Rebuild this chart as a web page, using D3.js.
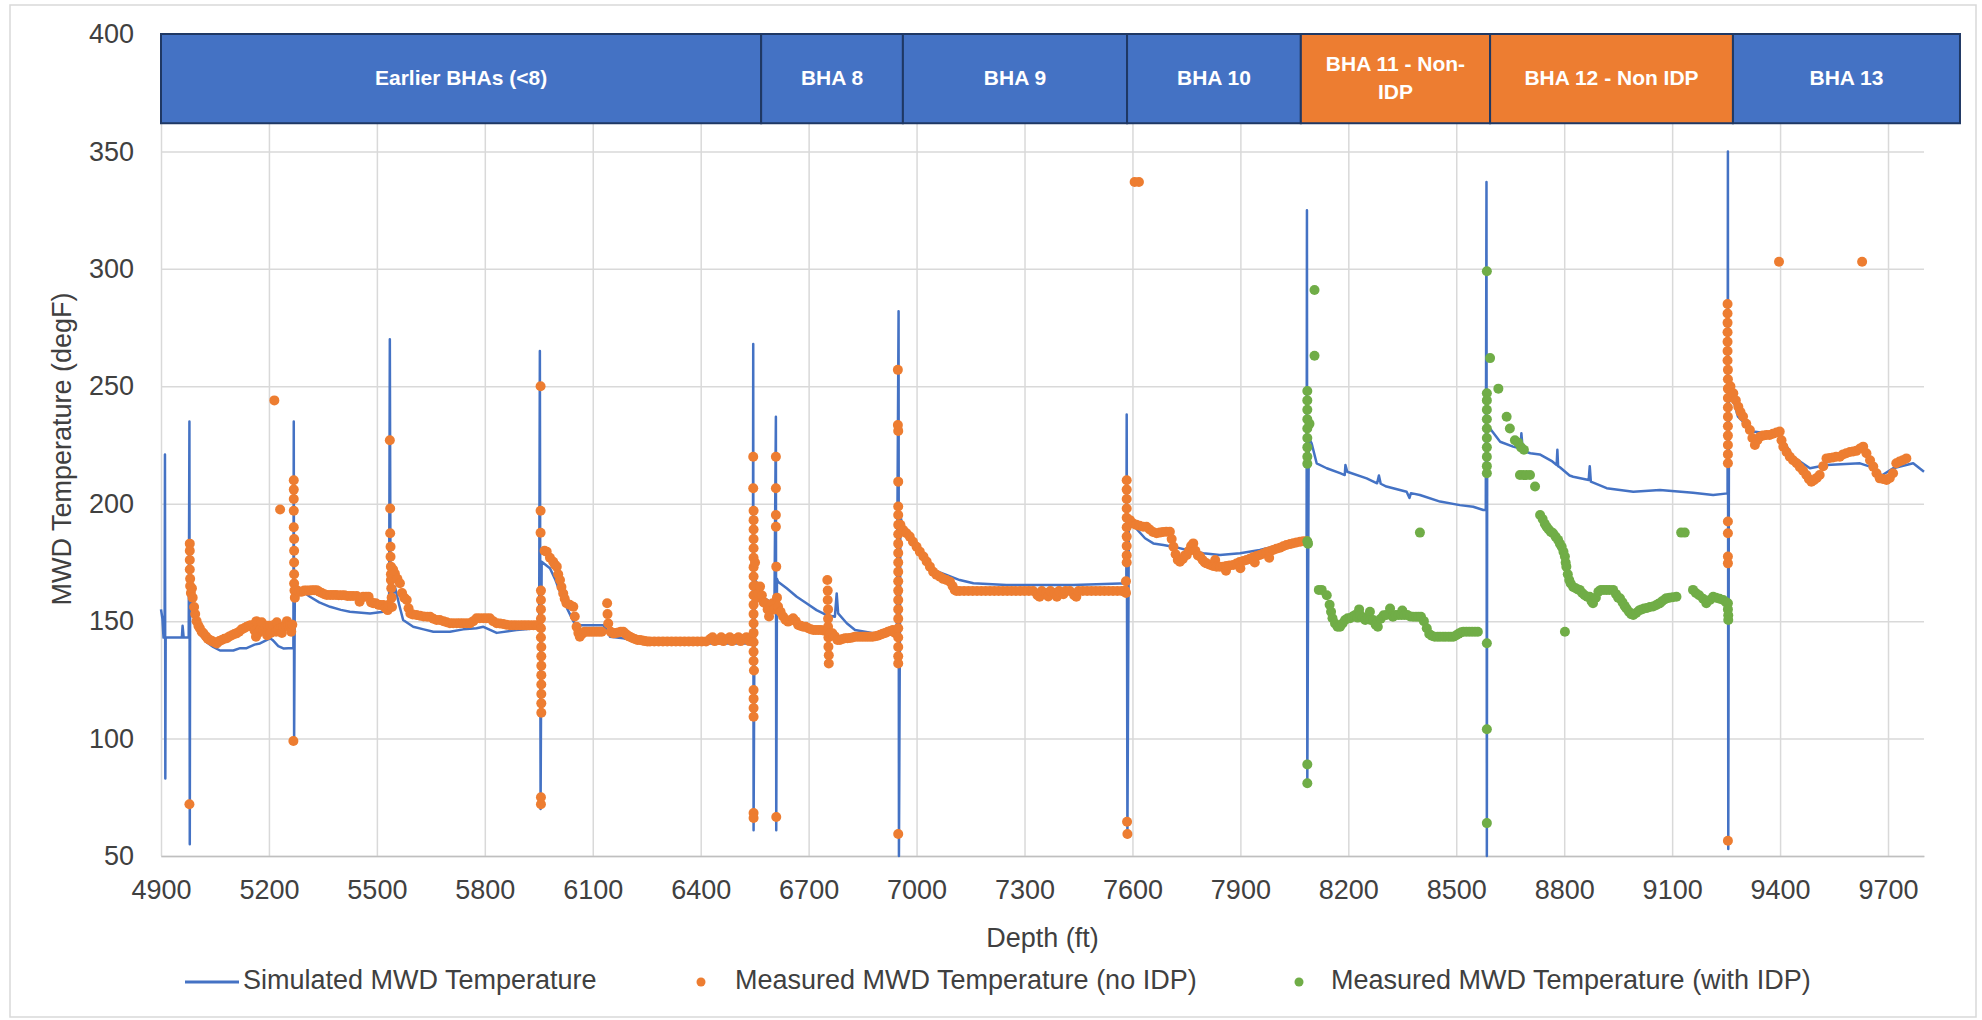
<!DOCTYPE html>
<html>
<head>
<meta charset="utf-8">
<script src="https://cdnjs.cloudflare.com/ajax/libs/d3/7.8.5/d3.min.js"></script>
<style>
  body { margin: 0; background: #fff; }
  text { font-family: "Liberation Sans", Arial, sans-serif; }
</style>
</head>
<body>
<div id="chart"></div>
<script>
var width = 1982, height = 1020;

// axis ticks
var xTicks = [4900, 5200, 5500, 5800, 6100, 6400, 6700, 7000, 7300, 7600, 7900, 8200, 8500, 8800, 9100, 9400, 9700];
var yTicks = [50, 100, 150, 200, 250, 300, 350, 400];

// BHA banner
var bhaNames = ["Earlier BHAs (<8)", "BHA 8", "BHA 9", "BHA 10", "BHA 11 -  Non-|IDP", "BHA 12 - Non IDP", "BHA 13"];
var bhaStart = [4900, 6568, 6962, 7585, 8068, 8594, 9269];
var bhaEnd   = [6568, 6962, 7585, 8068, 8594, 9269, 9900];
var bhaType  = ["IDP", "IDP", "IDP", "IDP", "Non-IDP", "Non-IDP", "IDP"];

// Simulated MWD temperature [depth, degF]
var simulated = [
  [4900,155],[4904,151],[4907,143],[4910,143],[4911,221],[4912,83],[4913,143],[4958,143],[4960,148],[4963,143],
  [4977,143],[4979,235],[4980,55],[4981,162],[4990,155],[4999,148],[5010,144],[5027,141],[5045,139],[5064,137.5],
  [5101,137.5],[5120,138.5],[5138,138.5],[5160,140],[5175,140.5],[5203,142.7],[5210,142],[5226,139.4],[5240,138.4],
  [5268,138.6],[5269,235],[5270,99],[5272,165],[5290,163],[5314,160.4],[5340,158],[5370,156.1],[5400,154.8],[5425,154],
  [5481,153.3],[5518,154],[5534,154.5],[5536,270],[5538,156],[5550,164.7],[5562,157],[5573,150.5],[5601,147.6],
  [5630,146.5],[5657,145.5],[5703,145.5],[5740,146.5],[5777,147],[5796,147.6],[5833,145],[5888,146.2],[5944,147],
  [5951,147],[5953,265],[5955,70],[5958,175.3],[5981,172.5],[5995,168],[6010,162],[6030,155],[6046,150],[6055,148.3],
  [6129,148.3],[6140,146],[6148,143.4],[6185,142.7],[6222,141.3],[6259,140.5],[6545,140.5],[6546,268],[6547,61],
  [6550,168],[6575,160],[6605,157],[6609,237],[6610,61],[6612,168],[6615,166.8],[6639,164],[6667,160.4],[6694,157.6],
  [6722,154.7],[6750,152.6],[6773,151.9],[6778,161.8],[6782,153.3],[6806,149.1],[6829,146.2],[6880,144.8],[6917,145.5],
  [6945,146.2],[6950,282],[6951,50],[6955,195],[6963,188.8],[6991,184.6],[7028,174.6],[7046,171.8],[7083,169.7],
  [7120,167.5],[7158,166.1],[7250,165.4],[7435,165.4],[7565,166],[7583,166],[7584,238],[7586,58],[7590,193],
  [7593,192.4],[7635,185.3],[7658,183.1],[7686,182.4],[7720,181.5],[7751,180.3],[7797,178.9],[7843,178.2],[7899,178.9],
  [7954,180.3],[8010,182.4],[8066,183.8],[8084,184],[8085,325],[8086,80],[8090,228],[8098,225.7],[8112,217.2],
  [8140,215.1],[8177,213],[8190,212.2],[8192,216.5],[8197,213.6],[8251,210.8],[8280,208.7],[8285,212],[8290,208.5],
  [8306,207.3],[8362,205.1],[8370,202.5],[8374,204.5],[8399,203.7],[8455,200.9],[8510,199.4],[8547,198.7],[8575,197.3],
  [8582,197.3],[8584,337],[8585,50],[8586,233],[8597,231.4],[8622,226.4],[8658,224.3],[8678,223.5],[8681,230],
  [8685,222.5],[8706,221.5],[8732,221],[8767,218],[8779,216.5],[8781,223],[8783,216],[8788,215.5],[8815,212],
  [8825,211.5],[8868,210.1],[8871,216],[8874,209.4],[8918,206.6],[8992,205.1],[9066,205.8],[9158,204.7],[9214,203.7],
  [9254,204.4],[9255,350],[9256,53],[9258,245],[9270,244.2],[9283,237.1],[9325,230.7],[9362,230],[9399,229.3],
  [9436,220],[9483,215.1],[9529,216.5],[9622,217.2],[9650,215.8],[9677,211.5],[9714,215.1],[9770,217.2],[9800,213.6]
];

// Measured MWD temperature, no IDP [depth, degF]
var measuredNoIdp = [
  [4979,72],[4980,183],[4980,180],[4980,176],[4980,172],[4981,168],[4981,165],[4983,162],[4986,164],[4988,160],
  [4992,156],[4995,153],[4999,150],[5004,148],[5008,147],[5013,145.5],[5018,144.8],[5025,143.5],[5030,142.5],[5036,142],
  [5042,141.5],[5048,141],[5055,140.5],[5062,141.5],[5069,142],[5076,142.5],[5083,142.7],[5090,143.5],[5097,144],
  [5104,144.5],[5110,144.8],[5117,145.5],[5124,146.5],[5131,147],[5138,147.6],[5145,148],[5150,148.3],[5157,148.3],
  [5160,146],[5164,143.4],[5165,150],[5170,145],[5177,146.5],[5180,149.5],[5184,146.2],[5190,147.5],[5195,144],
  [5197,148],[5203,148],[5205,145],[5212,148.3],[5215,244],[5220,145.5],[5222,149.5],[5226,146.5],[5231,197.5],
  [5233,147],[5236,145],[5240,147.6],[5247,148],[5250,150],[5253,148],[5259,148.3],[5262,145.5],[5265,148.5],
  [5268,99],[5269,210],[5269,206],[5269,202],[5269,197],[5269,190],[5270,185],[5270,180],[5270,175],[5270,170],
  [5270,166],[5271,163],[5272,160],
  [5277,163.2],[5284,162.5],[5291,162.5],[5298,163],[5305,163],[5312,163],[5319,163.2],[5326,163.2],[5333,163.2],
  [5340,162.5],[5347,162],[5354,161.5],[5361,161.1],[5370,161.1],[5378,161.1],[5386,161.1],[5394,161],[5402,161],
  [5410,161],[5418,160.7],[5426,160.7],[5434,160.7],[5444,160.7],[5452,158.3],[5456,160],[5462,160.4],[5470,160.4],
  [5477,160.4],[5484,158],[5490,157.6],[5497,157.6],[5504,157],[5510,156.9],[5518,156.9],[5524,155.5],[5530,154.7],
  [5533,157],
  [5536,227],[5537,198],[5537,187.4],[5538,181.7],[5538,177.4],[5539,173.2],[5539,170],[5539,167.5],[5540,164],
  [5541,160],[5542,156],
  [5545,172],[5550,170.3],[5557,168],[5564,166.1],[5570,162],[5576,160],[5583,159],[5588,155.5],[5593,153.3],
  [5600,152.8],[5610,152.6],[5620,152.3],[5630,152],[5640,151.9],[5648,151.9],[5657,151],[5666,150.5],[5675,150.5],
  [5685,150],[5694,149.5],[5703,149.1],[5712,149.1],[5722,149.1],[5731,149.1],[5740,149.1],[5750,149.1],[5759,149.1],
  [5768,150],[5777,151.2],[5786,151.2],[5796,151.2],[5805,151.2],[5814,151.2],[5823,150],[5833,149.1],[5842,149],
  [5851,148.8],[5860,148.5],[5870,148.3],[5879,148.3],[5888,148.3],[5898,148.3],[5907,148.3],[5916,148.3],[5925,148.3],
  [5935,148.3],[5944,148.3],[5950,148],
  [5955,250],[5955,197],[5955,187.6],[5956,163],[5956,159],[5956,155],[5956,151],[5956,147],[5956,143],[5957,139],
  [5957,135],[5957,131],[5957,127],[5957,123],[5957,119],[5957,115],[5957,111],[5956,75],[5956,72],
  [5966,180],[5972,179.6],[5981,177],[5990,175.3],[5995,174],[6000,173.2],[6004,170],[6009,167.5],[6013,164.5],
  [6018,161.8],[6022,159.5],[6027,157.6],[6036,157],[6046,156.1],[6050,152],[6055,147.6],[6060,145],[6064,143.4],
  [6070,144.5],[6077,145.5],[6083,145.5],[6090,145.5],[6097,145.5],[6104,145.5],[6111,145.5],[6118,145.5],[6125,145.5],
  [6140,157.6],[6141,153],[6143,149],[6150,145.5],[6157,144.8],[6164,145],[6171,145.2],[6178,145.5],[6185,145.5],
  [6192,144.5],[6198,143.8],[6203,143.4],[6210,142.8],[6217,142.4],[6224,142],[6231,142],[6238,141.8],[6245,141.5],
  [6252,141.3],[6259,141.3],[6271,141.3],[6283,141.3],[6295,141.3],[6307,141.3],[6319,141.3],[6331,141.3],[6343,141.3],
  [6355,141.3],[6367,141.3],[6379,141.3],[6391,141.3],[6403,141.3],[6415,141.3],[6427,142.5],[6433,143.1],[6439,141.5],
  [6451,142],[6457,143.1],[6463,141.5],[6475,142.5],[6481,143.1],[6487,141.5],[6499,142.5],[6505,143.1],[6511,141.5],
  [6520,142.5],[6527,143.1],[6535,141.5],[6541,143],
  [6546,220],[6546,206.6],[6547,197],[6547,193],[6547,189],[6547,185],[6547,181],[6547,177],[6547,173],[6547,169],
  [6547,165],[6547,161],[6547,157],[6547,153],[6547,149],[6547,145],[6547,141],[6547,137],[6547,133],[6548,129],
  [6547,120.7],[6547,117],[6547,113],[6547,109.3],[6547,68.3],[6547,66.2],
  [6551,175],[6553,165],[6556,160],[6560,162],[6565,164.7],[6570,161],[6575,158],[6580,157.6],[6586,155],[6590,152],
  [6595,156],[6600,157.6],[6604,155],
  [6609,220],[6609,206.6],[6609,195.2],[6609,190.2],[6610,173.2],[6610,66.6],
  [6612,160],[6615,156.2],[6622,154],[6629,152],[6636,150.5],[6643,149.8],[6650,150.5],[6657,151.2],[6664,150],
  [6671,148.4],[6678,148],[6685,147.6],[6692,147.6],[6699,147],[6706,146.6],[6713,146.2],[6720,146.2],[6727,146.2],
  [6734,146.2],[6741,146],
  [6752,167.5],[6753,163],[6753,159],[6754,155],[6754,151],[6754,147.6],[6755,143],[6755,139.1],[6756,135.5],[6756,132],
  [6760,144.8],[6766,144.8],[6773,143.5],[6780,142],[6787,142],[6794,142.4],[6801,142.7],[6808,142.7],[6815,142.8],
  [6822,143],[6829,143.4],[6836,143.4],[6843,143.4],[6850,143.4],[6857,143.4],[6864,143.4],[6871,143.4],[6878,143.4],
  [6885,143.6],[6892,143.8],[6899,144.2],[6906,144.6],[6913,145],[6920,145.5],[6927,145.8],[6934,146.2],[6940,145],
  [6948,257],[6948,233.5],[6949,231],[6949,209.4],[6949,198.8],[6949,195.2],[6949,191],[6949,187],[6949,183],[6949,179],
  [6949,175],[6949,171],[6949,167],[6949,163],[6949,159],[6949,155],[6949,151],[6949,147],[6949,143],[6949,139],
  [6949,135],[6949,132],[6949,59.4],
  [6955,191],[6963,188.8],[6972,187.4],[6981,186],[6990,183.8],[7000,181.7],[7009,179.6],[7019,177.5],[7028,175.4],
  [7037,173.2],[7046,171],[7055,169.8],[7065,168.9],[7074,168],[7083,167.5],[7093,166.8],[7100,165],[7106,163.3],
  [7111,162.8],[7120,162.8],[7132,162.8],[7144,162.8],[7156,162.8],[7168,162.8],[7180,162.8],[7192,162.8],[7204,162.8],
  [7216,162.8],[7228,162.8],[7240,162.8],[7252,162.8],[7264,162.8],[7276,162.8],[7288,162.8],[7300,162.8],[7312,162.8],
  [7324,162.8],[7336,161],[7342,160.4],[7348,162.8],[7360,162],[7366,160.5],[7372,162.8],[7384,162],[7390,160.4],
  [7396,162.8],[7408,161.5],[7414,162.8],[7426,162.8],[7438,161],[7444,160.4],[7450,162.8],[7462,162.8],[7474,162.8],
  [7486,162.8],[7498,162.8],[7510,162.8],[7522,162.8],[7534,162.8],[7546,162.8],[7558,162.8],[7570,162.8],[7580,163],
  [7584,210],[7584,206],[7584,202],[7584,198],[7584,194],[7584,190],[7584,186],[7584,182],[7584,178],[7584,175],
  [7582,167],[7582,162],[7585,64.6],[7586,59.4],[7606,337],[7618,337],
  [7593,193],[7602,191.6],[7611,191],[7620,190.6],[7630,190.2],[7639,190.2],[7648,189],[7657,188],[7667,187.4],
  [7676,187.7],[7685,188],[7694,188.1],[7704,188.1],[7709,185],[7714,181.7],[7720,178.5],[7726,176],[7732,175.3],
  [7740,176.5],[7746,178],[7751,178.2],[7757,180],[7763,182],[7769,183.1],[7775,180],[7782,178],[7788,177.5],
  [7795,176],[7801,175],[7806,174.6],[7815,174],[7824,173.5],[7830,176],[7834,173.2],[7843,173.2],[7852,173.2],
  [7860,171.5],[7861,173.5],[7870,173.7],[7880,173.9],[7889,174.5],[7898,175.2],[7900,172.5],[7908,175.6],[7917,176],
  [7926,176.6],[7935,177.2],[7940,175],[7945,177.7],[7954,178.2],[7963,178.7],[7972,179.3],[7980,177],[7982,179.8],
  [7991,180.3],[8000,180.8],[8010,181.3],[8019,181.9],[8028,182.4],[8038,182.8],[8047,183.2],[8056,183.5],[8066,183.8],
  [8075,184],[8084,184],
  [9254,285],[9254,281],[9254,277],[9254,273],[9254,269],[9254,265],[9254,261],[9255,257],[9255,253],[9255,249],
  [9255,245],[9255,241],[9255,237],[9255,233],[9255,229],[9255,225],[9255,221],[9255,217.2],[9255,192.4],[9255,187.4],
  [9255,177.5],[9255,174.6],[9255,56.5],
  [9262,250],[9270,247],[9277,244],[9284,241.3],[9290,239],[9297,237.1],[9306,234],[9316,231.4],[9323,228],[9330,225],
  [9337,227],[9344,228.5],[9352,229],[9362,229.3],[9371,229.3],[9380,229.8],[9390,230.3],[9399,230.7],[9404,227],
  [9409,224.3],[9418,222],[9427,220],[9436,218.5],[9446,217.2],[9455,215.5],[9464,214],[9473,212.2],[9480,210.5],
  [9487,209.4],[9494,210],[9502,211],[9510,212.2],[9520,216],[9529,219.3],[9538,219.5],[9547,219.7],[9556,220],
  [9566,220],[9575,221],[9584,221.5],[9594,222],[9603,222.2],[9612,222.5],[9622,223.5],[9631,224.3],[9640,221.5],
  [9650,218.5],[9659,215.8],[9668,213],[9677,210.8],[9686,210.5],[9696,210.1],[9705,211],[9714,213],[9723,217.2],
  [9732,218],[9741,218.5],[9751,219.3],[9397,303],[9628,303]
];

// Measured MWD temperature, with IDP [depth, degF]
var measuredIdp = [
  [8106,291],[8106,263],[8086,248],[8086,244],[8086,240],[8086,236],[8086,232],[8086,228],[8086,224],[8086,220],
  [8086,217],[8092,234],[8086,184],[8088,183],[8086,89],[8086,81],
  [8118,163.3],[8126,163.3],[8140,161],[8148,157],[8152,154],[8156,151.2],[8163,149],[8170,147.6],[8177,147.6],
  [8184,149],[8191,150.5],[8198,151.2],[8205,151.2],[8212,152],[8219,152.6],[8226,151.5],[8230,155],[8233,152.6],
  [8240,151.5],[8247,150.5],[8254,151.5],[8260,154],[8262,150.5],[8269,150.5],[8276,148.5],[8282,147.6],[8290,151],
  [8298,152.5],[8306,152.6],[8316,155.4],[8324,151.9],[8332,152.6],[8340,152.6],[8348,152.6],[8350,154.5],[8356,152.6],
  [8364,152.6],[8372,152],[8380,151.9],[8388,151.9],[8395,151.9],[8402,151.9],[8410,150],[8418,147],[8425,144.5],
  [8432,143.8],[8440,143.4],[8448,143.4],[8455,143.4],[8463,143.4],[8470,143.4],[8478,143.4],[8485,143.4],[8492,143.4],
  [8500,144],[8507,144.7],[8514,145.3],[8520,145.5],[8528,145.5],[8536,145.5],[8544,145.5],[8552,145.5],[8560,145.5],
  [8399,187.7],
  [8585,299],[8594,262],[8585,247],[8585,244],[8585,240],[8585,236],[8585,232],[8585,228],[8585,224],[8585,220],
  [8585,216],[8585,213],[8585,140.6],[8585,104],[8585,64],
  [8617,249],[8640,237],[8649,232],[8663,227],[8672,226],[8680,224],[8688,223],[8677,212.2],[8686,212.2],[8695,212.2],
  [8705,212.2],[8719,207.3],[8733,195.2],[8740,193.5],[8746,191.5],[8751,190.2],[8757,189],[8763,188],[8769,187.4],
  [8776,186],[8783,184.6],[8788,183],[8793,181.7],[8798,179.5],[8802,177.5],[8804,175],[8806,173.2],[8810,170],
  [8814,167.5],[8818,166],[8825,164.5],[8832,164],[8838,163.5],[8843,163.3],[8850,162],[8857,161],[8864,160.4],
  [8871,160.4],[8876,158.5],[8880,157.6],[8888,160],[8895,162.5],[8902,163.3],[8910,163.3],[8918,163.3],[8926,163.3],
  [8936,163.3],[8944,161.5],[8950,160],[8955,159.7],[8962,158],[8968,156.5],[8973,155.4],[8980,154],[8986,153],
  [8992,152.6],[9000,153.5],[9008,154.5],[9015,155],[9022,155.4],[9030,155.6],[9038,156],[9047,156.2],[9055,156.8],
  [9062,157.4],[9066,157.6],[9072,158.5],[9080,159.3],[9084,159.7],[9093,160],[9102,160.2],[9112,160.4],
  [9125,187.7],[9135,187.7],[8802,145.5],
  [9158,163.3],[9166,162],[9175,161],[9186,159.5],[9195,157.6],[9205,159],[9214,160.4],[9222,160],[9232,159.5],
  [9242,159],[9250,158],[9255,157.6],[9255,155],[9256,152.5],[9256,150.5]
];

var colBlue = "#4472C4", colOrange = "#ED7D31", colGreen = "#70AD47";
var bandColor = { "IDP": colBlue, "Non-IDP": colOrange };
var dotR = 5;

var svg = d3.select("#chart").append("svg")
  .attr("width", width)
  .attr("height", height);

svg.append("rect")
  .attr("x", 10).attr("y", 5)
  .attr("width", 1966).attr("height", 1012)
  .attr("fill", "#fff").attr("stroke", "#d9d9d9").attr("stroke-width", 1.5);

var x = d3.scaleLinear().domain([4900, 9800]).range([161, 1924]);
var y = d3.scaleLinear().domain([50, 400]).range([856, 34]);

// gridlines
svg.append("g")
  .attr("transform", "translate(0,856)")
  .call(d3.axisBottom(x).tickValues(xTicks).tickSize(-822).tickFormat(""))
  .call(g => g.select(".domain").remove())
  .call(g => g.selectAll("line").attr("stroke", "#d9d9d9").attr("stroke-width", 1.5));

svg.append("g")
  .attr("transform", "translate(161,0)")
  .call(d3.axisLeft(y).tickValues(yTicks).tickSize(-1763).tickFormat(""))
  .call(g => g.select(".domain").remove())
  .call(g => g.selectAll("line").attr("stroke", "#d9d9d9").attr("stroke-width", 1.5));

// axes labels
var xAxis = svg.append("g")
  .attr("transform", "translate(0,856)")
  .call(d3.axisBottom(x).tickValues(xTicks).tickSize(0).tickPadding(24).tickFormat(d3.format("d")));
xAxis.select(".domain").attr("stroke", "#bfbfbf").attr("stroke-width", 1.5);
xAxis.selectAll("text").attr("font-size", 27).attr("fill", "#404040")
  .attr("font-family", "Liberation Sans, Arial, sans-serif");

var yAxis = svg.append("g")
  .attr("transform", "translate(161,0)")
  .call(d3.axisLeft(y).tickValues(yTicks).tickSize(0).tickPadding(27));
yAxis.select(".domain").remove();
yAxis.selectAll("text").attr("font-size", 27).attr("fill", "#404040")
  .attr("font-family", "Liberation Sans, Arial, sans-serif");

// BHA banner
var bands = svg.append("g");
bhaNames.forEach(function (name, i) {
  var x0 = x(bhaStart[i]), x1 = x(bhaEnd[i]);
  bands.append("rect")
    .attr("x", x0).attr("y", y(400))
    .attr("width", x1 - x0).attr("height", y(362) - y(400))
    .attr("fill", bandColor[bhaType[i]])
    .attr("stroke", "#1F3864").attr("stroke-width", 2);
  var lines = name.split("|");
  var t = bands.append("text")
    .attr("x", (x0 + x1) / 2)
    .attr("y", (y(400) + y(362)) / 2 - (lines.length - 1) * 14)
    .attr("text-anchor", "middle")
    .attr("dominant-baseline", "middle")
    .attr("fill", "#fff")
    .attr("font-size", 21)
    .attr("font-weight", "bold");
  lines.forEach(function (l, j) {
    t.append("tspan").attr("x", (x0 + x1) / 2).attr("dy", j === 0 ? 0 : 28).text(l);
  });
});

// series
var line = d3.line().x(d => x(d[0])).y(d => y(d[1]));

svg.append("path")
  .datum(simulated)
  .attr("d", line)
  .attr("fill", "none")
  .attr("stroke", colBlue)
  .attr("stroke-width", 2.5)
  .attr("stroke-linejoin", "round");

svg.append("g").selectAll("circle")
  .data(measuredNoIdp)
  .enter().append("circle")
  .attr("cx", d => x(d[0]))
  .attr("cy", d => y(d[1]))
  .attr("r", dotR)
  .attr("fill", colOrange);

svg.append("g").selectAll("circle")
  .data(measuredIdp)
  .enter().append("circle")
  .attr("cx", d => x(d[0]))
  .attr("cy", d => y(d[1]))
  .attr("r", dotR)
  .attr("fill", colGreen);

// axis titles
svg.append("text")
  .attr("x", (161 + 1924) / 2).attr("y", 940)
  .attr("text-anchor", "middle").attr("dominant-baseline", "middle")
  .attr("font-size", 27).attr("fill", "#404040")
  .text("Depth (ft)");

svg.append("text")
  .attr("transform", "translate(64," + 449 + ") rotate(-90)")
  .attr("text-anchor", "middle").attr("dominant-baseline", "middle")
  .attr("font-size", 27).attr("fill", "#404040")
  .text("MWD Temperature (degF)");

// legend
var legend = svg.append("g");
legend.append("line")
  .attr("x1", 185).attr("x2", 239).attr("y1", 982).attr("y2", 982)
  .attr("stroke", colBlue).attr("stroke-width", 3);
legend.append("text").attr("x", 243).attr("y", 982)
  .attr("dominant-baseline", "middle").attr("font-size", 27).attr("fill", "#404040")
  .text("Simulated MWD Temperature");
legend.append("circle").attr("cx", 701).attr("cy", 982).attr("r", 4.5).attr("fill", colOrange);
legend.append("text").attr("x", 735).attr("y", 982)
  .attr("dominant-baseline", "middle").attr("font-size", 27).attr("fill", "#404040")
  .text("Measured MWD Temperature (no IDP)");
legend.append("circle").attr("cx", 1299).attr("cy", 982).attr("r", 4.5).attr("fill", colGreen);
legend.append("text").attr("x", 1331).attr("y", 982)
  .attr("dominant-baseline", "middle").attr("font-size", 27).attr("fill", "#404040")
  .text("Measured MWD Temperature (with IDP)");
</script>
</body>
</html>
